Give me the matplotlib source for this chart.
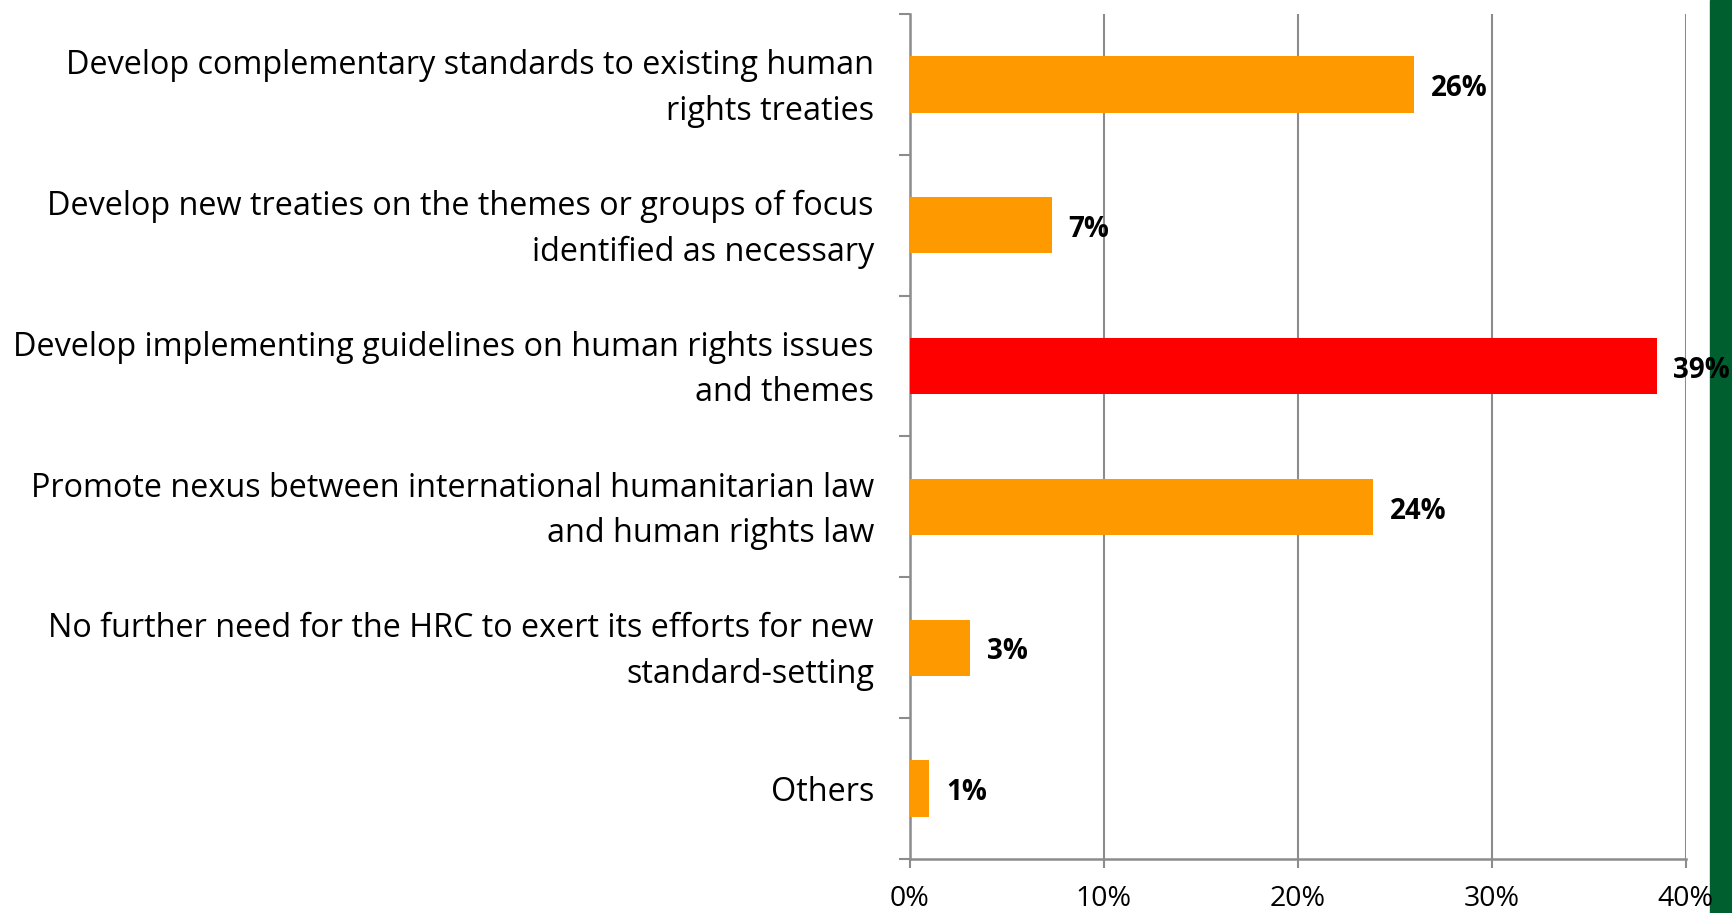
import numpy as np
import matplotlib.pyplot as plt
from matplotlib.patches import Rectangle
from matplotlib.ticker import FixedLocator

categories = [
    "Develop complementary standards to existing human\nrights treaties",
    "Develop new treaties on the themes or groups of focus\nidentified as necessary",
    "Develop implementing guidelines on human rights issues\nand themes",
    "Promote nexus between international humanitarian law\nand human rights law",
    "No further need for the HRC to exert its efforts for new\nstandard-setting",
    "Others",
]
values = [26.0, 7.3, 38.5, 23.9, 3.1, 1.0]
value_labels = ["26%", "7%", "39%", "24%", "3%", "1%"]
bar_colors = ["#FF9900", "#FF9900", "#FF0000", "#FF9900", "#FF9900", "#FF9900"]
xticks = [0, 10, 20, 30, 40]
xtick_labels = ["0%", "10%", "20%", "30%", "40%"]

plt.rcParams['font.family'] = ['Open Sans', 'DejaVu Sans']
grid_gray = "#8C8C8C"

fig = plt.figure(figsize=(17.33, 9.13), dpi=100)
ax = fig.add_axes([910 / 1733, 1 - 859 / 913, (1685.7 - 910) / 1733, (859 - 14) / 913])
ax.set_facecolor("none")

# green strip on the right edge, kept under the text
fig.patches.append(Rectangle((1710 / 1733, 0), 1, 1, transform=fig.transFigure,
                             color="#005F2E", zorder=-1))

y = np.arange(len(categories))
ax.barh(y, values, height=0.4, color=bar_colors, zorder=3)
for yi, v, lab in zip(y, values, value_labels):
    ax.text(v + 0.85, yi + 0.03, lab, va="center", ha="left", fontsize=20,
            fontweight="bold", color="black", zorder=5, clip_on=False)

ax.set_xlim(0, 40)
ax.set_ylim(len(categories) - 0.5, -0.5)

ax.set_xticks(xticks)
ax.set_xticklabels(xtick_labels, fontsize=20.5)
ax.xaxis.grid(True, color=grid_gray, linewidth=1.5, zorder=1)
ax.set_axisbelow(True)

# two-line labels sit a touch high, like the original
label_pos = [yi - 0.045 if "\n" in c else yi for yi, c in zip(y, categories)]
ax.set_yticks(label_pos)
ax.set_yticklabels(categories, fontsize=23.3, linespacing=1.5)
ax.yaxis.set_minor_locator(FixedLocator(np.arange(-0.5, len(categories), 1.0)))
ax.tick_params(axis="y", which="major", length=0, pad=26)
ax.tick_params(axis="y", which="minor", length=8, width=1.5, color=grid_gray, direction="out")
ax.tick_params(axis="x", which="major", length=6.5, width=1.5, color=grid_gray,
               direction="out", pad=12)
for lab in ax.get_yticklabels():
    lab.set_horizontalalignment("right")

for s in ["top", "right"]:
    ax.spines[s].set_visible(False)
for s in ["left", "bottom"]:
    ax.spines[s].set_color(grid_gray)
    ax.spines[s].set_linewidth(1.8)

fig.savefig("out.png", dpi=100)
